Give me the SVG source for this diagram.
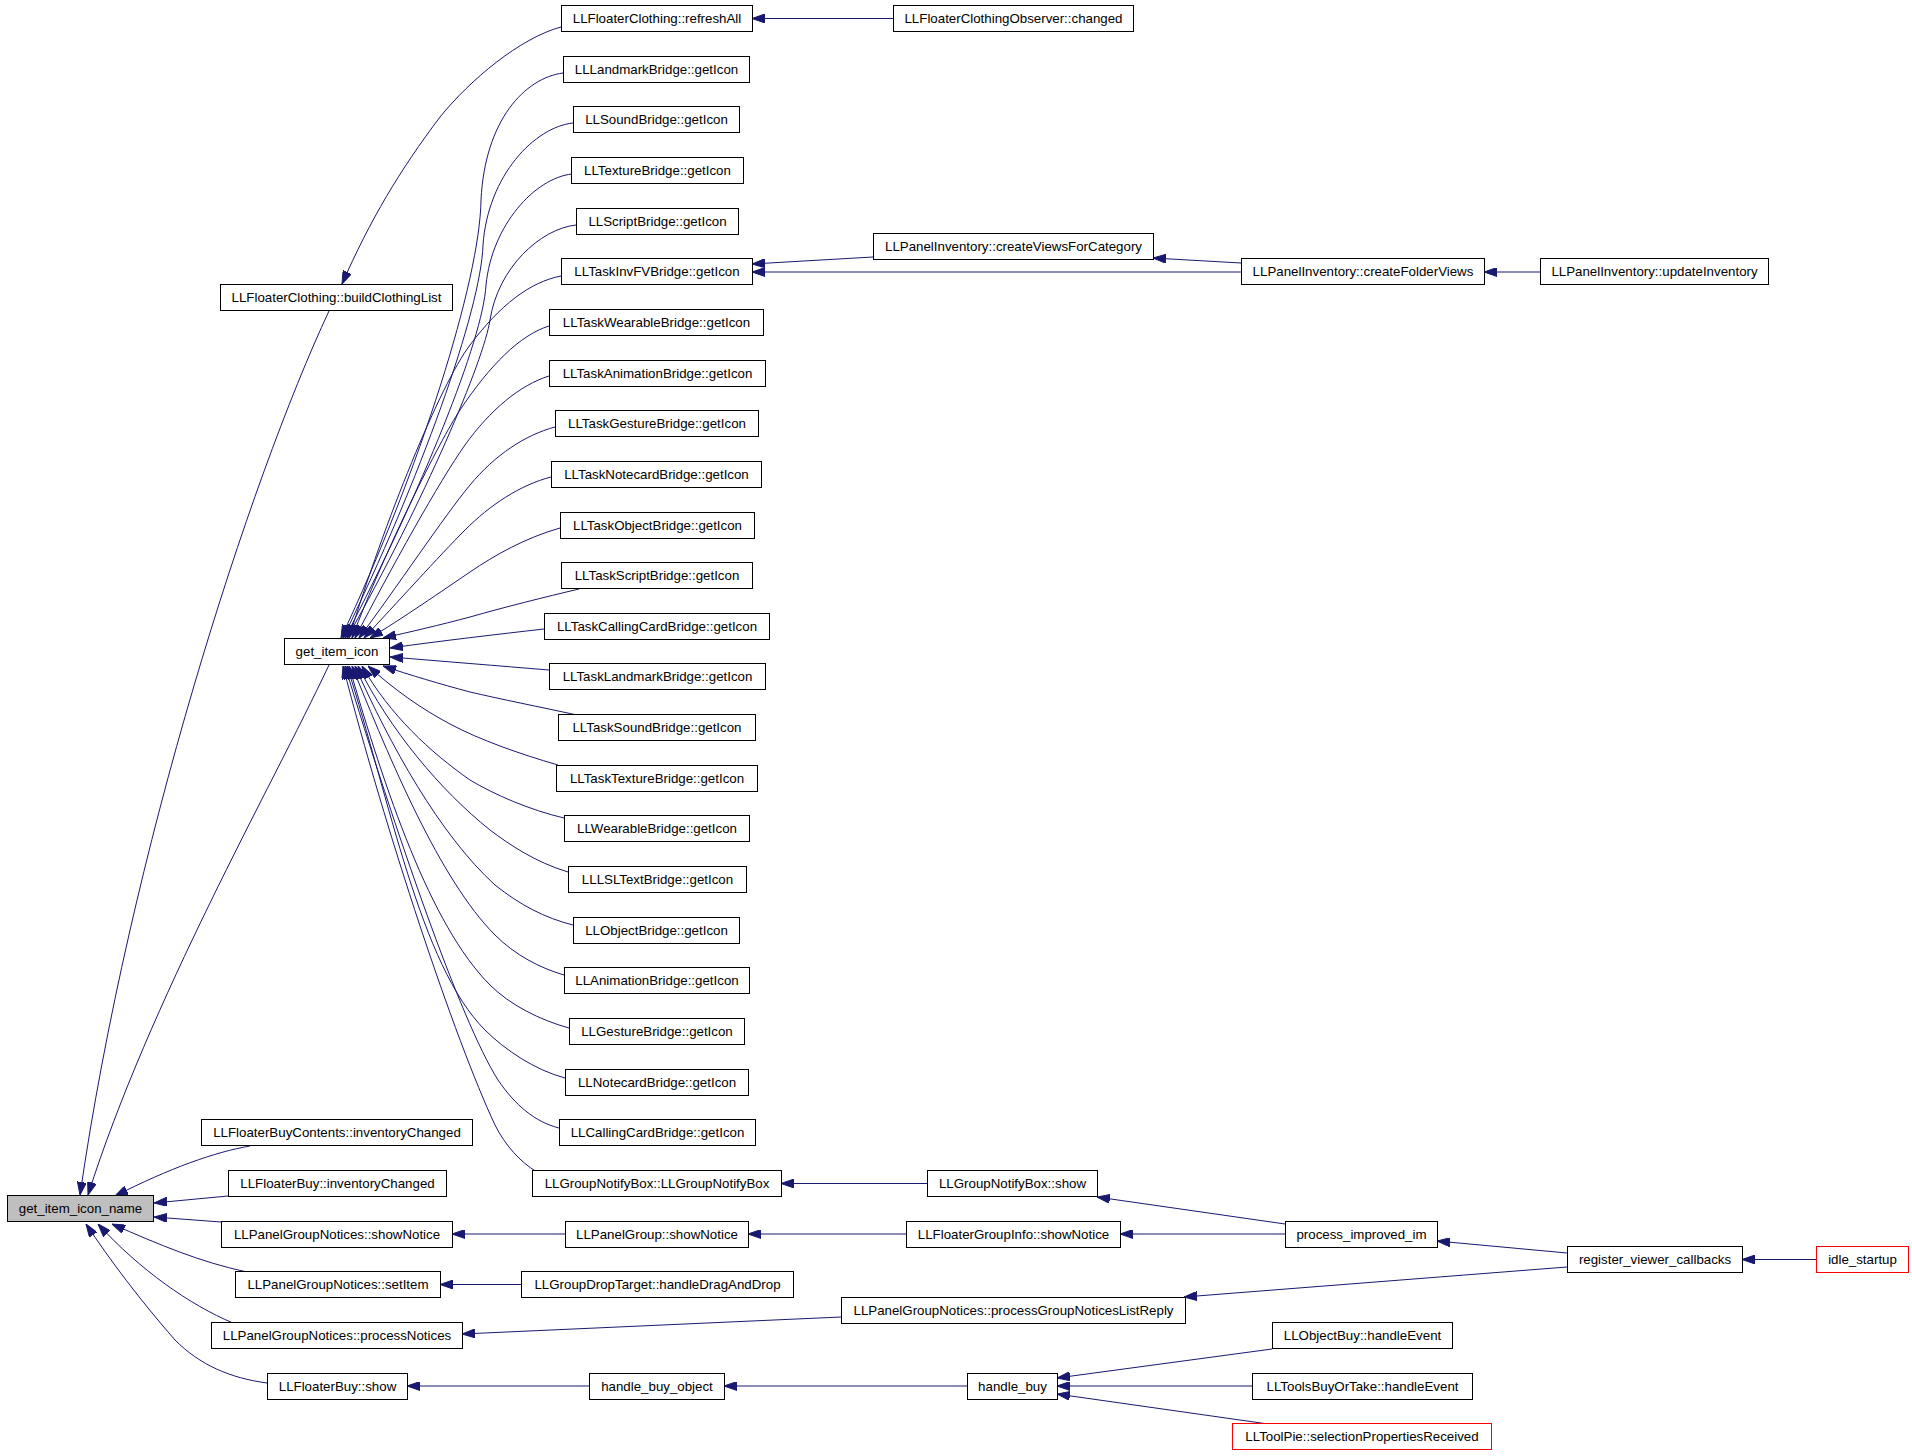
<svg xmlns="http://www.w3.org/2000/svg" width="1912" height="1456" viewBox="0 0 1912 1456">
<defs>
<style>
.n{fill:#ffffff;stroke:#000000;stroke-width:1}
.g{fill:#bfbfbf;stroke:#000000;stroke-width:1}
.r{fill:#ffffff;stroke:#ff0000;stroke-width:1}
text{font-family:"Liberation Sans",Arial,Helvetica,sans-serif;font-size:13.3px;fill:#000000;text-anchor:middle}
.e path{fill:none;stroke:#191970;stroke-width:1;marker-end:url(#ah)}
</style>
<marker id="ah" viewBox="0 0 13 9" refX="13" refY="4.5" markerWidth="13" markerHeight="9" markerUnits="userSpaceOnUse" orient="auto">
<path d="M0,0 L13,4.5 L0,9 z" fill="#191970" stroke="#191970" stroke-width="1"/>
</marker>
</defs>
<rect width="1912" height="1456" fill="#ffffff"/>
<g class="e" id="edges">
<path d="M893,18.5 L752,18.5"/>
<path d="M561,27 C520,38 470,80 440,117 C400,170 370,220 342,284"/>
<path d="M329,311 C250,480 130,850 80,1195"/>
<path d="M329,665 C270,790 150,1000 88,1195"/>
<path d="M563,73 C525,78 485,120 481,200 C480,280 420,470 341,638"/>
<path d="M573,123 C535,127 488,175 483,245 C481,310 420,480 343,638"/>
<path d="M572,174 C535,178 492,225 486,285 C483,340 422,490 345,638"/>
<path d="M576,225 C540,229 498,268 490,320 C484,360 425,500 347,638"/>
<path d="M561,276 C530,282 500,305 470,345 C440,385 385,520 349,638"/>
<path d="M549,326 C520,335 490,365 460,410 C440,440 385,550 352,638"/>
<path d="M549,376 C520,385 490,410 465,445 C440,480 390,570 355,638"/>
<path d="M555,427 C525,435 495,455 470,485 C445,515 395,590 359,638"/>
<path d="M551,477 C520,485 490,505 465,530 C440,555 395,605 364,638"/>
<path d="M560,528 C525,538 495,555 470,572 C445,589 400,620 370,638"/>
<path d="M579,589 C545,597 505,607 470,617 C440,625 410,632 383,638"/>
<path d="M544,629 C500,634 440,641 390,648"/>
<path d="M549,670 C500,666 440,661 390,657"/>
<path d="M577,715 C540,707 500,699 470,692 C440,684 410,675 383,666"/>
<path d="M558,765 C520,754 480,740 450,724 C420,708 395,690 368,666"/>
<path d="M564,818 C530,810 495,795 470,780 C430,752 390,715 362,666"/>
<path d="M568,872 C535,862 510,845 490,830 C440,790 390,730 358,666"/>
<path d="M573,925 C545,918 520,905 495,885 C440,835 390,745 355,666"/>
<path d="M564,975 C540,968 515,955 495,935 C440,880 390,760 352,666"/>
<path d="M569,1028 C540,1020 510,1005 490,985 C430,925 385,790 349,666"/>
<path d="M565,1078 C535,1070 505,1050 485,1030 C420,965 390,800 347,666"/>
<path d="M559,1128 C535,1122 515,1105 498,1080 C460,1020 395,830 345,666"/>
<path d="M537,1172 C520,1162 505,1145 495,1125 C455,1040 385,830 343,666"/>
<path d="M873,257 L752,264"/>
<path d="M1241,272 L752,272"/>
<path d="M1241,263 L1153,258"/>
<path d="M1540,272 L1484,272"/>
<path d="M250,1146 C215,1152 170,1168 115,1196"/>
<path d="M228,1196 L154,1203"/>
<path d="M221,1222 L154,1217"/>
<path d="M247,1272 C200,1262 160,1245 112,1224"/>
<path d="M233,1323 C190,1305 140,1270 98,1224"/>
<path d="M267,1383 C230,1378 200,1365 175,1340 C140,1300 110,1260 86,1224"/>
<path d="M927,1183.5 L781,1183.5"/>
<path d="M565,1234 L452,1234"/>
<path d="M906,1234 L748,1234"/>
<path d="M1285,1234 L1120,1234"/>
<path d="M1285,1224 L1097,1197"/>
<path d="M1567,1253 L1437,1241"/>
<path d="M1567,1267 L1184,1297"/>
<path d="M1816,1259.5 L1742,1259.5"/>
<path d="M521,1284.5 L440,1284.5"/>
<path d="M841,1317 L462,1334"/>
<path d="M589,1386 L407,1386"/>
<path d="M967,1386 L724,1386"/>
<path d="M1272,1349 L1057,1378"/>
<path d="M1252,1386 L1057,1386"/>
<path d="M1268,1424 L1057,1394"/>
</g>
<g id="n_refreshAll"><rect class="n" x="561.5" y="5.5" width="191" height="26"/><text x="657" y="23">LLFloaterClothing::refreshAll</text></g>
<g id="n_observerChanged"><rect class="n" x="893.5" y="5.5" width="240" height="26"/><text x="1013.5" y="23">LLFloaterClothingObserver::changed</text></g>
<g id="n_landmark"><rect class="n" x="563.5" y="56.5" width="186" height="26"/><text x="656.5" y="73.6">LLLandmarkBridge::getIcon</text></g>
<g id="n_sound"><rect class="n" x="573.5" y="106.5" width="166" height="26"/><text x="656.5" y="124.3">LLSoundBridge::getIcon</text></g>
<g id="n_texture"><rect class="n" x="571.5" y="157.5" width="172" height="26"/><text x="657.5" y="175">LLTextureBridge::getIcon</text></g>
<g id="n_script"><rect class="n" x="576.5" y="208.5" width="162" height="26"/><text x="657.5" y="225.6">LLScriptBridge::getIcon</text></g>
<g id="n_createViews"><rect class="n" x="873.5" y="233.5" width="280" height="26"/><text x="1013.5" y="250.9">LLPanelInventory::createViewsForCategory</text></g>
<g id="n_taskInvFV"><rect class="n" x="561.5" y="258.5" width="191" height="26"/><text x="657" y="276.2">LLTaskInvFVBridge::getIcon</text></g>
<g id="n_createFolder"><rect class="n" x="1241.5" y="258.5" width="243" height="26"/><text x="1363" y="276.2">LLPanelInventory::createFolderViews</text></g>
<g id="n_updateInv"><rect class="n" x="1540.5" y="258.5" width="228" height="26"/><text x="1654.5" y="276.2">LLPanelInventory::updateInventory</text></g>
<g id="n_buildClothing"><rect class="n" x="220.5" y="284.5" width="232" height="26"/><text x="336.5" y="301.6">LLFloaterClothing::buildClothingList</text></g>
<g id="n_taskWearable"><rect class="n" x="549.5" y="309.5" width="214" height="26"/><text x="656.5" y="326.9">LLTaskWearableBridge::getIcon</text></g>
<g id="n_taskAnim"><rect class="n" x="549.5" y="360.5" width="216" height="26"/><text x="657.5" y="377.5">LLTaskAnimationBridge::getIcon</text></g>
<g id="n_taskGesture"><rect class="n" x="555.5" y="410.5" width="203" height="26"/><text x="657" y="428.2">LLTaskGestureBridge::getIcon</text></g>
<g id="n_taskNotecard"><rect class="n" x="551.5" y="461.5" width="210" height="26"/><text x="656.5" y="478.8">LLTaskNotecardBridge::getIcon</text></g>
<g id="n_taskObject"><rect class="n" x="560.5" y="512.5" width="194" height="26"/><text x="657.5" y="529.5">LLTaskObjectBridge::getIcon</text></g>
<g id="n_taskScript"><rect class="n" x="561.5" y="562.5" width="191" height="26"/><text x="657" y="580.1">LLTaskScriptBridge::getIcon</text></g>
<g id="n_taskCalling"><rect class="n" x="544.5" y="613.5" width="225" height="26"/><text x="657" y="630.8">LLTaskCallingCardBridge::getIcon</text></g>
<g id="n_getItemIcon"><rect class="n" x="284.5" y="638.5" width="105" height="26"/><text x="337" y="656.1">get_item_icon</text></g>
<g id="n_taskLandmark"><rect class="n" x="549.5" y="663.5" width="216" height="26"/><text x="657.5" y="681.4">LLTaskLandmarkBridge::getIcon</text></g>
<g id="n_taskSound"><rect class="n" x="558.5" y="714.5" width="197" height="26"/><text x="657" y="732.1">LLTaskSoundBridge::getIcon</text></g>
<g id="n_taskTexture"><rect class="n" x="556.5" y="765.5" width="201" height="26"/><text x="657" y="782.7">LLTaskTextureBridge::getIcon</text></g>
<g id="n_wearable"><rect class="n" x="564.5" y="815.5" width="185" height="26"/><text x="657" y="833.4">LLWearableBridge::getIcon</text></g>
<g id="n_lsltext"><rect class="n" x="568.5" y="866.5" width="178" height="26"/><text x="657.5" y="884">LLLSLTextBridge::getIcon</text></g>
<g id="n_object"><rect class="n" x="573.5" y="917.5" width="166" height="26"/><text x="656.5" y="934.7">LLObjectBridge::getIcon</text></g>
<g id="n_animation"><rect class="n" x="564.5" y="967.5" width="185" height="26"/><text x="657" y="985.3">LLAnimationBridge::getIcon</text></g>
<g id="n_gesture"><rect class="n" x="569.5" y="1018.5" width="175" height="26"/><text x="657" y="1036">LLGestureBridge::getIcon</text></g>
<g id="n_notecard"><rect class="n" x="565.5" y="1069.5" width="183" height="26"/><text x="657" y="1086.6">LLNotecardBridge::getIcon</text></g>
<g id="n_callingcard"><rect class="n" x="559.5" y="1119.5" width="196" height="26"/><text x="657.5" y="1137.3">LLCallingCardBridge::getIcon</text></g>
<g id="n_buyContentsInv"><rect class="n" x="201.5" y="1119.5" width="271" height="26"/><text x="337" y="1137.3">LLFloaterBuyContents::inventoryChanged</text></g>
<g id="n_groupNotifyBoxCtor"><rect class="n" x="532.5" y="1170.5" width="249" height="26"/><text x="657" y="1187.9">LLGroupNotifyBox::LLGroupNotifyBox</text></g>
<g id="n_groupNotifyBoxShow"><rect class="n" x="927.5" y="1170.5" width="170" height="26"/><text x="1012.5" y="1187.9">LLGroupNotifyBox::show</text></g>
<g id="n_floaterBuyInv"><rect class="n" x="228.5" y="1170.5" width="218" height="26"/><text x="337.5" y="1187.9">LLFloaterBuy::inventoryChanged</text></g>
<g id="n_getItemIconName"><rect class="g" x="7.5" y="1195.5" width="146" height="26"/><text x="80.5" y="1213.3">get_item_icon_name</text></g>
<g id="n_pgnShowNotice"><rect class="n" x="221.5" y="1221.5" width="231" height="26"/><text x="337" y="1238.6">LLPanelGroupNotices::showNotice</text></g>
<g id="n_pgShowNotice"><rect class="n" x="565.5" y="1221.5" width="183" height="26"/><text x="657" y="1238.6">LLPanelGroup::showNotice</text></g>
<g id="n_fgiShowNotice"><rect class="n" x="906.5" y="1221.5" width="214" height="26"/><text x="1013.5" y="1238.6">LLFloaterGroupInfo::showNotice</text></g>
<g id="n_processIM"><rect class="n" x="1285.5" y="1221.5" width="152" height="26"/><text x="1361.5" y="1238.6">process_improved_im</text></g>
<g id="n_registerCallbacks"><rect class="n" x="1567.5" y="1246.5" width="175" height="26"/><text x="1655" y="1263.9">register_viewer_callbacks</text></g>
<g id="n_idleStartup"><rect class="r" x="1816.5" y="1246.5" width="92" height="26"/><text x="1862.5" y="1263.9">idle_startup</text></g>
<g id="n_setItem"><rect class="n" x="235.5" y="1271.5" width="205" height="26"/><text x="338" y="1289.2">LLPanelGroupNotices::setItem</text></g>
<g id="n_dropTarget"><rect class="n" x="521.5" y="1271.5" width="272" height="26"/><text x="657.5" y="1289.2">LLGroupDropTarget::handleDragAndDrop</text></g>
<g id="n_pgnListReply"><rect class="n" x="841.5" y="1297.5" width="344" height="26"/><text x="1013.5" y="1314.6">LLPanelGroupNotices::processGroupNoticesListReply</text></g>
<g id="n_processNotices"><rect class="n" x="211.5" y="1322.5" width="251" height="26"/><text x="337" y="1339.9">LLPanelGroupNotices::processNotices</text></g>
<g id="n_objectBuy"><rect class="n" x="1272.5" y="1322.5" width="180" height="26"/><text x="1362.5" y="1339.9">LLObjectBuy::handleEvent</text></g>
<g id="n_floaterBuyShow"><rect class="n" x="267.5" y="1373.5" width="140" height="26"/><text x="337.5" y="1390.5">LLFloaterBuy::show</text></g>
<g id="n_handleBuyObject"><rect class="n" x="589.5" y="1373.5" width="135" height="26"/><text x="657" y="1390.5">handle_buy_object</text></g>
<g id="n_handleBuy"><rect class="n" x="967.5" y="1373.5" width="90" height="26"/><text x="1012.5" y="1390.5">handle_buy</text></g>
<g id="n_toolsBuyOrTake"><rect class="n" x="1252.5" y="1373.5" width="220" height="26"/><text x="1362.5" y="1390.5">LLToolsBuyOrTake::handleEvent</text></g>
<g id="n_toolPie"><rect class="r" x="1232.5" y="1423.5" width="259" height="26"/><text x="1362" y="1441.2">LLToolPie::selectionPropertiesReceived</text></g>
</svg>
